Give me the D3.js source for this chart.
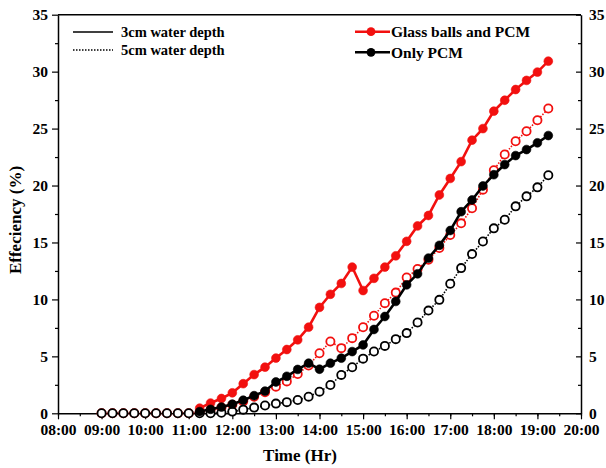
<!DOCTYPE html>
<html>
<head>
<meta charset="utf-8">
<script src="https://cdn.jsdelivr.net/npm/d3@7"></script>
<style>
  body { margin: 0; background: #fff; }
  text { font-family: "Liberation Serif", "Times New Roman", serif; font-weight: bold; fill: #000; }
</style>
</head>
<body>
<svg width="606" height="468"></svg>
<script>
// sample times, every 15 min
var timeLabels = ["09:00","09:15","09:30","09:45","10:00","10:15","10:30","10:45",
  "11:00","11:15","11:30","11:45","12:00","12:15","12:30","12:45",
  "13:00","13:15","13:30","13:45","14:00","14:15","14:30","14:45",
  "15:00","15:15","15:30","15:45","16:00","16:15","16:30","16:45",
  "17:00","17:15","17:30","17:45","18:00","18:15","18:30","18:45",
  "19:00","19:15"];

// Glass balls and PCM, 3cm water depth
var glass3cm = [null,null,null,null,null,null,null,null,null,
  0.45,0.9,1.3,1.8,2.6,3.4,4.05,4.85,5.6,6.45,7.56,9.3,10.45,11.4,12.84,
  10.78,11.85,12.84,13.83,15.1,16.45,17.37,19.17,20.62,22.1,23.98,25.0,
  26.53,27.49,28.43,29.23,29.96,30.92];
// Only PCM, 3cm water depth
var pcm3cm = [null,null,null,null,null,null,null,null,null,
  0.15,0.35,0.55,0.8,1.15,1.55,1.95,2.75,3.25,3.85,4.4,3.87,4.4,4.84,5.42,
  6.0,7.36,8.5,9.82,11.28,12.25,13.63,14.75,16.05,17.7,18.73,19.96,
  20.95,21.84,22.63,23.16,23.75,24.39];
// Glass balls and PCM, 5cm water depth
var glass5cm = [0,0,0,0,0,0,0,0,0,
  0.1,0.3,0.5,0.75,1.05,1.45,1.85,2.34,2.8,3.45,4.2,5.27,6.3,5.72,6.6,
  7.56,8.57,9.67,10.6,11.93,12.67,13.48,14.51,15.65,16.68,18.0,19.64,
  21.34,22.72,23.89,24.77,25.73,26.76];
// Only PCM, 5cm water depth
var pcm5cm = [0,0,0,0,0,0,0,0,0,0,0,
  0.05,0.15,0.32,0.5,0.68,0.85,0.98,1.17,1.46,1.9,2.49,3.37,4.05,
  4.8,5.42,5.92,6.51,7.04,7.97,9.02,9.96,11.37,12.75,13.98,15.09,
  16.24,17.0,18.17,19.05,19.84,20.9];

var yTicks = [0, 5, 10, 15, 20, 25, 30, 35];

var RED = "#f2100f";

var svg = d3.select("svg"),
    plotLeft = 58, plotRight = 581, plotTop = 14.7, plotBottom = 413.3;

var parse = d3.timeParse("%H:%M");
var times = timeLabels.map(parse);

var x = d3.scaleTime()
    .domain([parse("08:00"), parse("20:00")])
    .range([plotLeft, plotRight]);
var y = d3.scaleLinear()
    .domain([0, 35])
    .range([plotBottom, plotTop]);

// top frame line
svg.append("line").attr("x1", plotLeft).attr("x2", plotRight).attr("y1", plotTop).attr("y2", plotTop)
    .attr("stroke", "#000").attr("stroke-width", 1.5);

// minor ticks
svg.append("g").attr("transform", "translate(0," + plotBottom + ")")
    .call(d3.axisBottom(x).ticks(d3.timeMinute.every(30)).tickSize(3).tickFormat(""))
    .call(function(g) { g.select(".domain").remove(); });
svg.append("g").attr("transform", "translate(" + plotLeft + ",0)")
    .call(d3.axisLeft(y).tickValues(d3.range(2.5, 35, 5)).tickSize(3).tickFormat(""))
    .call(function(g) { g.select(".domain").remove(); });
svg.append("g").attr("transform", "translate(" + plotRight + ",0)")
    .call(d3.axisRight(y).tickValues(d3.range(2.5, 35, 5)).tickSize(-3).tickFormat(""))
    .call(function(g) { g.select(".domain").remove(); });

var xAxis = svg.append("g").attr("transform", "translate(0," + plotBottom + ")")
    .call(d3.axisBottom(x).ticks(d3.timeHour.every(1)).tickFormat(d3.timeFormat("%H:%M"))
        .tickSize(6).tickSizeOuter(0).tickPadding(5));
xAxis.selectAll("text").attr("font-size", 15.5);

var yAxis = svg.append("g").attr("transform", "translate(" + plotLeft + ",0)")
    .call(d3.axisLeft(y).tickValues(yTicks).tickSize(6).tickSizeOuter(0).tickPadding(4));
yAxis.selectAll("text").attr("font-size", 15.5);

// right axis, ticks inward, labels outside
var yAxisR = svg.append("g").attr("transform", "translate(" + plotRight + ",0)")
    .call(d3.axisRight(y).tickValues(yTicks).tickSize(-5).tickSizeOuter(0));
yAxisR.selectAll("text").attr("font-size", 15.5).attr("x", 8);

svg.selectAll(".domain").attr("stroke-width", 1.5);
svg.selectAll(".tick line").attr("stroke-width", 1.2);

svg.append("text").attr("x", 300).attr("y", 461).attr("text-anchor", "middle")
    .attr("font-size", 17).text("Time (Hr)");
svg.append("text").attr("transform", "translate(20.5,220) rotate(-90)")
    .attr("text-anchor", "middle").attr("font-size", 17).text("Effeciency (%)");

var series = [
    { values: glass5cm, color: RED, open: true },
    { values: pcm5cm, color: "#000", open: true },
    { values: glass3cm, color: RED, open: false },
    { values: pcm3cm, color: "#000", open: false }
];

var line = d3.line()
    .defined(function(d) { return d[1] != null; })
    .x(function(d) { return x(d[0]); })
    .y(function(d) { return y(d[1]); });

series.forEach(function(s) {
    var pts = times.map(function(t, i) { return [t, s.values[i]]; });
    svg.append("path")
        .datum(pts)
        .attr("fill", "none")
        .attr("stroke", s.color)
        .attr("stroke-width", s.open ? 1.6 : 2.6)
        .attr("stroke-dasharray", s.open ? "1.5,1.5" : null)
        .attr("d", line);
    svg.append("g").selectAll("circle")
        .data(pts.filter(function(d) { return d[1] != null; }))
        .enter().append("circle")
        .attr("cx", function(d) { return x(d[0]); })
        .attr("cy", function(d) { return y(d[1]); })
        .attr("r", s.open ? 4.1 : 4.4)
        .attr("fill", s.open ? "#fff" : s.color)
        .attr("stroke", s.color)
        .attr("stroke-width", s.open ? 1.8 : 0.6);
});

// legend: line styles
var lg = svg.append("g");
lg.append("line").attr("x1", 73).attr("x2", 113).attr("y1", 32).attr("y2", 32)
    .attr("stroke", "#000").attr("stroke-width", 1.5);
lg.append("line").attr("x1", 73).attr("x2", 113).attr("y1", 50).attr("y2", 50)
    .attr("stroke", "#000").attr("stroke-width", 1.5).attr("stroke-dasharray", "1.5,1.5");
lg.append("text").attr("x", 121).attr("y", 37).attr("font-size", 14.5).text("3cm water depth");
lg.append("text").attr("x", 121).attr("y", 55).attr("font-size", 14.5).text("5cm water depth");

// legend: cases
var cases = [
    { name: "Glass balls and PCM", color: RED, y: 31.7 },
    { name: "Only PCM", color: "#000", y: 52.3 }
];
cases.forEach(function(c) {
    lg.append("line").attr("x1", 355).attr("x2", 390).attr("y1", c.y).attr("y2", c.y)
        .attr("stroke", c.color).attr("stroke-width", 2.6);
    lg.append("circle").attr("cx", 371).attr("cy", c.y).attr("r", 4.4).attr("fill", c.color);
    lg.append("text").attr("x", 391).attr("y", c.y + 5.5).attr("font-size", 15.5).text(c.name);
});
</script>
</body>
</html>
